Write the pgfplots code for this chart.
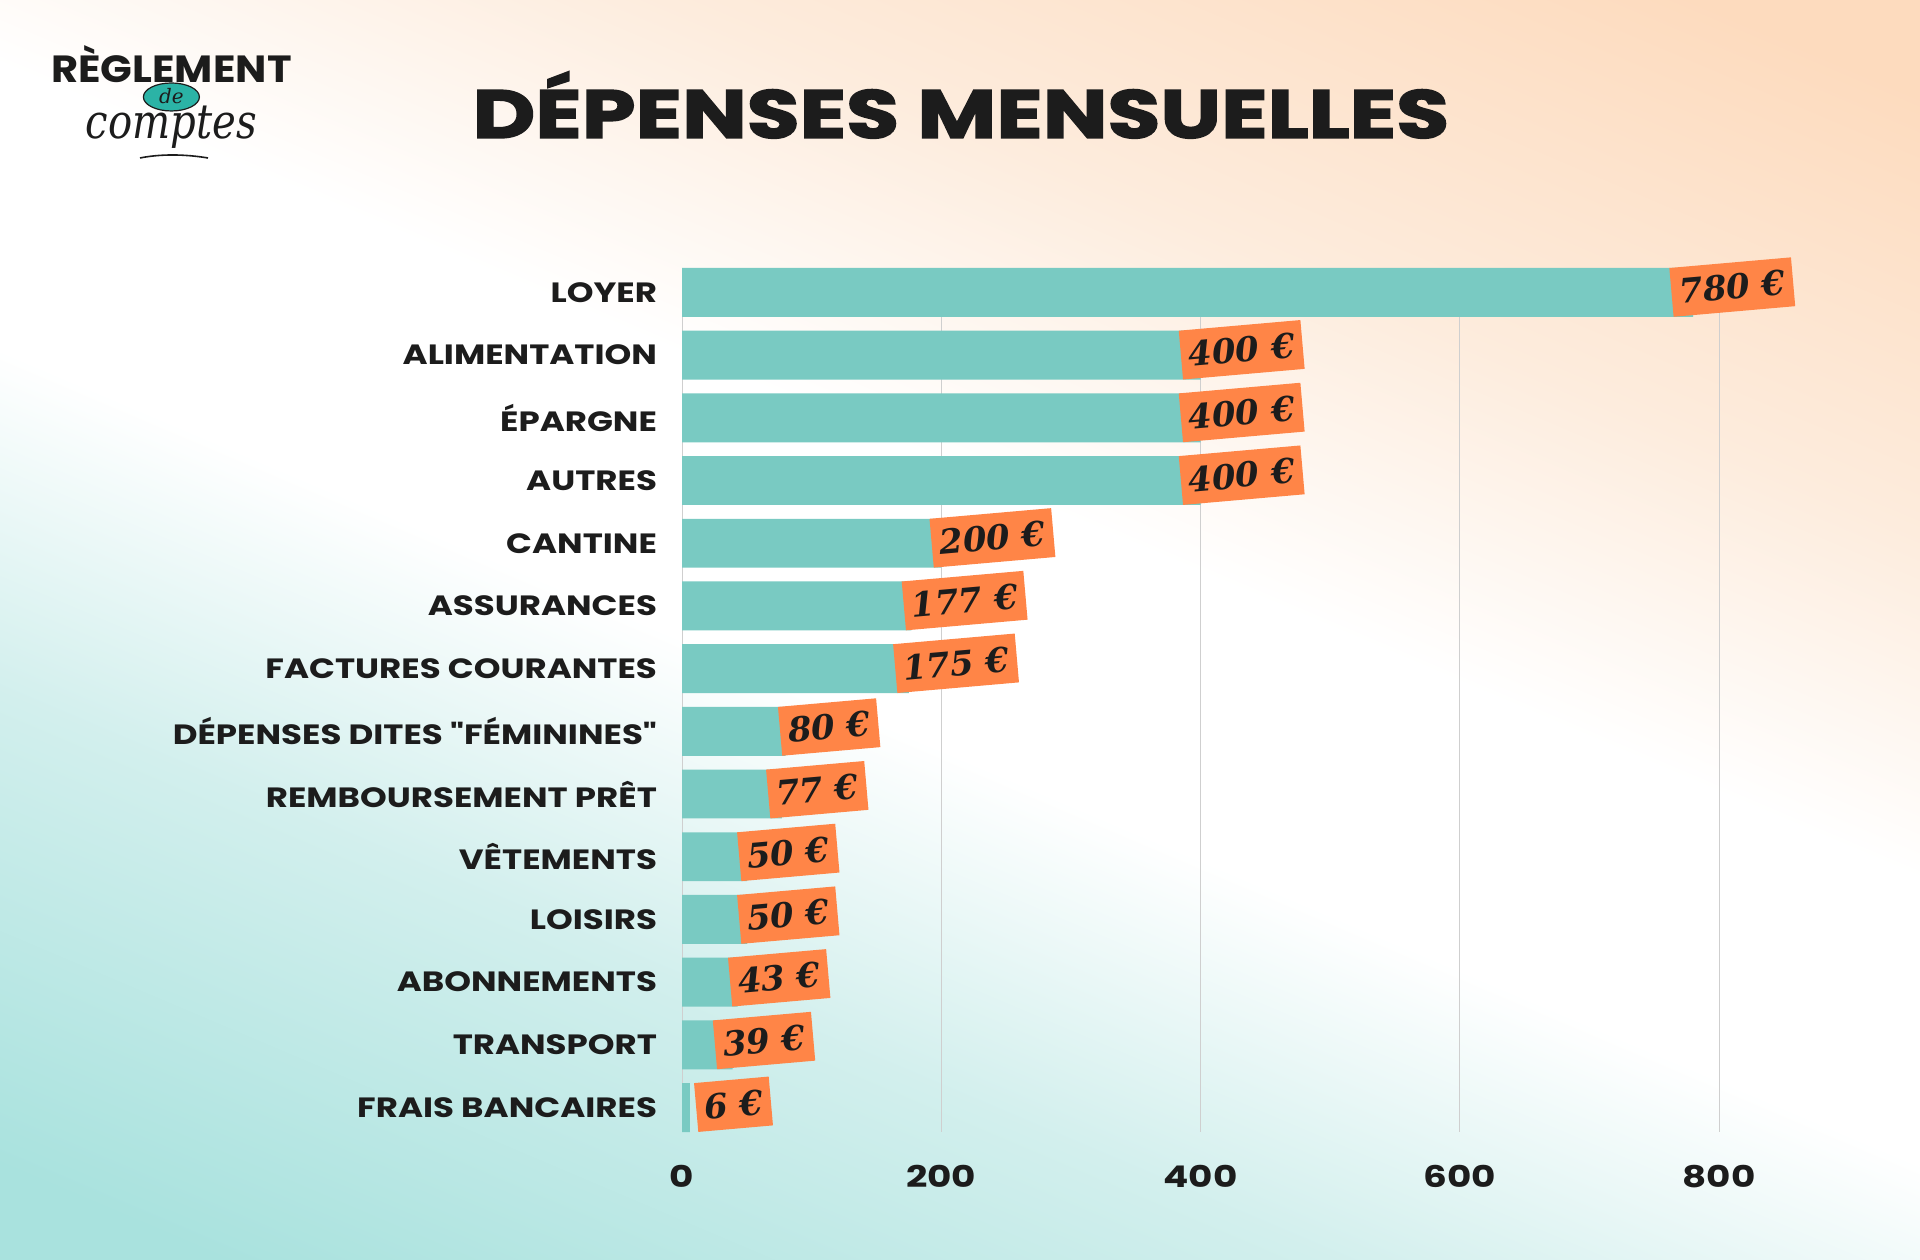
\documentclass[border=0pt]{standalone}
\usepackage{pgfplots}
\pgfplotsset{compat=1.18}
\usepackage{pgfplotstable}
\usepackage{fontspec}
\setmainfont{Poppins}
\newfontfamily\labfont{Poppins}[FakeStretch=1.22]
\newfontfamily\tickfont{Poppins}[FakeStretch=1.25]
\newfontfamily\titlefont{Poppins}[FakeBold=2.5, FakeStretch=1.27]
\newfontfamily\logofont{Poppins}[FakeStretch=1.1]
\newfontfamily\valfont{DejaVu Serif}
\definecolor{barteal}{HTML}{79CAC2}
\definecolor{tagorange}{HTML}{FF8547}
\definecolor{ink}{HTML}{1C1C1C}
\definecolor{peach}{HTML}{FDDBBE}
\definecolor{lightpeach}{HTML}{FDECDD}
\definecolor{bgteal}{HTML}{A9E2DE}
\definecolor{lightteal}{HTML}{D2EFED}
\definecolor{gridgray}{HTML}{CFCFCF}
\definecolor{logoteal}{HTML}{2BB3A6}
\pgfdeclareverticalshading{bgshade}{100bp}{color(0bp)=(bgteal); color(20bp)=(bgteal); color(35bp)=(lightteal); color(46bp)=(white); color(55bp)=(white); color(66bp)=(lightpeach); color(80bp)=(peach); color(100bp)=(peach)}

\pgfplotstableread{
y val off
0 780 -11
1 400 -10
2 400 -10
3 400 -10
4 200 -5
5 177 -4
6 175 -7
7 80 -3
8 77 -7
9 50 -4
10 50 -4
11 43 -4
12 39 -9
13 6 3
}\datatable

\begin{document}
\begin{tikzpicture}[x=1bp,y=1bp]
\useasboundingbox (0,0) rectangle (960,630);
\fill[shading=bgshade, shading angle=-23] (0,0) rectangle (960,630);

% title
\node[text=ink, font=\titlefont\bfseries\fontsize{34}{34}\selectfont] at (480.5,577.5) {DÉPENSES MENSUELLES};

% logo
\fill[logoteal, draw=ink, line width=0.6bp] (85.7,581.5) ellipse (14bp and 7bp);
\node[text=ink, inner sep=0, anchor=base] at (85.7,560.5) {\vbox{\offinterlineskip
  \hbox to 0pt{\hss\smash{\logofont\bfseries\fontsize{19}{19}\selectfont RÈGLEMENT}\hss}
  \vskip 10.5bp
  \hbox to 0pt{\hss\smash{\valfont\itshape\fontsize{10}{10}\selectfont de}\hss}
  \vskip 17.5bp
  \hbox to 0pt{\hss\smash{\valfont\itshape\fontsize{24}{24}\selectfont\scalebox{0.84}[1]{comptes}}\hss}}};
\draw[ink, line width=0.8bp] (70,551) .. controls (80,553) and (92,553) .. (104,551);

\begin{axis}[
  at={(341bp,64bp)}, anchor=south west,
  scale only axis, width=518.5bp, height=432bp,
  xmin=0, xmax=800, ymin=-0.39, ymax=13.39,
  y dir=reverse,
  clip=false,
  axis line style={draw=none},
  tick style={draw=none},
  xmajorgrids, grid style={gridgray, line width=0.5bp},
  xtick={0,200,400,600,800},
  xticklabels={0,200,400,600,800},
  xticklabel style={font=\tickfont\bfseries\fontsize{15}{15}\selectfont, text=ink, yshift=-13bp},
  ytick={0,...,13},
  yticklabels={LOYER, ALIMENTATION, ÉPARGNE, AUTRES, CANTINE, ASSURANCES, FACTURES COURANTES, DÉPENSES DITES "FÉMININES", REMBOURSEMENT PRÊT, VÊTEMENTS, LOISIRS, ABONNEMENTS, TRANSPORT, FRAIS BANCAIRES},
  yticklabel style={font=\labfont\bfseries\fontsize{14}{14}\selectfont, text=ink, xshift=-9bp},
  bar width=0.78,
]
\addplot[xbar, fill=barteal, draw=none,
  visualization depends on={\thisrow{off} \as \off},
  point meta=x,
  nodes near coords={\pgfmathprintnumber[fixed,precision=0,assume math mode=true]{\pgfplotspointmeta}~€},
  every node near coord/.append style={anchor=west, xshift=\off bp, rotate=5,
    fill=tagorange, text=ink, font=\valfont\bfseries\itshape\fontsize{17}{17}\selectfont,
    inner xsep=4bp, minimum height=24.5bp},
] table[x=val, y=y] {\datatable};
\end{axis}
\end{tikzpicture}
\end{document}
